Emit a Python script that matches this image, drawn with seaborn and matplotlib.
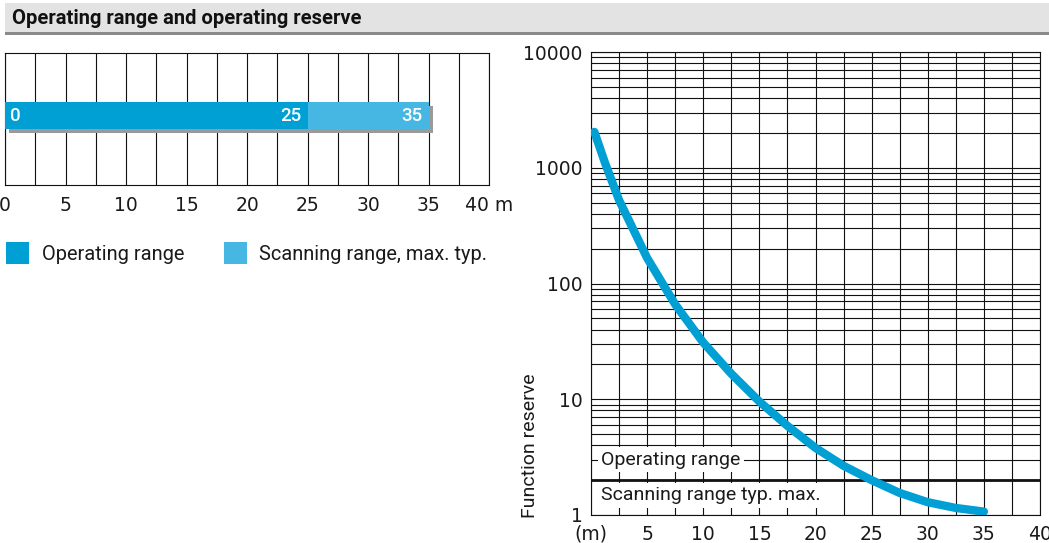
import matplotlib
matplotlib.use("Agg")
import matplotlib.pyplot as plt
import matplotlib.patheffects as pe
from matplotlib.patches import Rectangle
from matplotlib.ticker import FixedLocator, MultipleLocator, LogLocator, NullFormatter, FixedFormatter
import seaborn as sns

# Range bar (metres)
range_labels = ["Operating range", "Scanning range, max. typ."]
range_ends = [25, 35]
range_colors = ["#009FD4", "#46B7E2"]
range_ticks = [0, 5, 10, 15, 20, 25, 30, 35, 40]
range_tick_labels = ["0", "5", "10", "15", "20", "25", "30", "35", "40 m"]

# Function reserve versus distance
distance_m = [0.3, 1.25, 2.5, 5, 7.5, 10, 12.5, 15, 17.5, 20, 22.5, 25, 27.5, 30, 32.5, 35]
function_reserve = [2040, 1100, 525, 166, 66, 30.9, 16.6, 9.55, 5.89, 3.80, 2.66, 2.0, 1.55, 1.29, 1.15, 1.07]
reserve_ticks = [1, 10, 100, 1000, 10000]
distance_ticks = [0, 5, 10, 15, 20, 25, 30, 35, 40]
distance_tick_labels = ["(m)", "5", "10", "15", "20", "25", "30", "35", "40"]
operating_limit = 2

W, H = 1049, 543
sns.set_theme(style="white")
plt.rcParams["font.family"] = ["Roboto", "DejaVu Sans"]
plt.rcParams["text.color"] = "#1a1a1a"
TICK_FONT = ["DejaVu Sans"]
INK = "#1a1a1a"

fig = plt.figure(figsize=(W / 100, H / 100), dpi=100)


def fx(px):
    return px / W


def fy(py):
    return 1 - py / H


# Header band
fig.patches.append(Rectangle((fx(5), fy(32)), 1, 29 / H, transform=fig.transFigure,
                             facecolor="#E3E3E3", edgecolor="none", zorder=0))
fig.patches.append(Rectangle((fx(5), fy(35)), 1, 3 / H, transform=fig.transFigure,
                             facecolor="#8A8A8A", edgecolor="none", zorder=0))
fig.text(fx(12), fy(18), "Operating range and operating reserve",
         family=["Roboto", "DejaVu Sans"], fontweight="bold", fontsize=14.5,
         color="#111111", va="center", ha="left")

# ---- Range bar ----
axL = fig.add_axes([fx(5), fy(185.3), 484 / W, 132.6 / H])
sns.barplot(x=[range_ends[1]], y=[""], orient="h", color=range_colors[1],
            saturation=1, width=0.8, linewidth=0, ax=axL)
sns.barplot(x=[range_ends[0]], y=[""], orient="h", color=range_colors[0],
            saturation=1, width=0.8, linewidth=0, ax=axL)
bars = axL.patches
bars[0].set_path_effects([pe.SimplePatchShadow(offset=(2.9, -2.9), shadow_rgbFace="#9A9A9A", alpha=1),
                          pe.Normal()])
for b in bars:
    b.set_zorder(3)
axL.set_ylim(2.039, -1.845)
axL.set_xlim(0, 40)
axL.xaxis.set_major_locator(FixedLocator(range_ticks))
axL.xaxis.set_minor_locator(MultipleLocator(2.5))
axL.set_xticklabels(range_tick_labels, family=TICK_FONT)
axL.grid(True, which="both", axis="x", color="#111111", lw=0.8, zorder=1)
axL.set_axisbelow(True)
axL.tick_params(axis="x", which="both", length=0, labelsize=13.5, pad=8, labelcolor=INK)
axL.tick_params(axis="y", left=False, labelleft=False)
axL.set_xlabel("")
axL.set_ylabel("")
for s in axL.spines.values():
    s.set_color("#111111")
    s.set_linewidth(0.8)

# Value labels on the bar
axL.annotate("0", xy=(0, 0), xytext=(3.5, 0), textcoords="offset points", ha="left", va="center",
             color="white", fontsize=13.5, fontweight="medium", zorder=5)
for end in range_ends:
    axL.annotate(str(end), xy=(end, 0), xytext=(-4, 0), textcoords="offset points",
                 ha="right", va="center", color="white", fontsize=13.5, fontweight="medium", zorder=5)

# Legend
for (x0, xt), lab, col in zip([(6, 42), (224, 259)], range_labels, range_colors):
    fig.patches.append(Rectangle((fx(x0), fy(264)), 23 / W, 22 / H, transform=fig.transFigure,
                                 facecolor=col, edgecolor="none"))
    fig.text(fx(xt), fy(254), lab, ha="left", va="center", fontsize=14.4, color=INK)

# ---- Function reserve ----
axR = fig.add_axes([fx(591), fy(515), 449 / W, 463 / H])
axR.set_yscale("log")
sns.lineplot(x=distance_m, y=function_reserve, ax=axR, color="#009FD4", lw=6,
             solid_capstyle="round", zorder=4)
axR.set_xlim(0, 40)
axR.set_ylim(1, 10000)
axR.xaxis.set_major_locator(FixedLocator(distance_ticks))
axR.xaxis.set_major_formatter(FixedFormatter(distance_tick_labels))
axR.xaxis.set_minor_locator(MultipleLocator(2.5))
axR.yaxis.set_major_locator(FixedLocator(reserve_ticks))
axR.yaxis.set_major_formatter(FixedFormatter([str(t) for t in reserve_ticks]))
axR.yaxis.set_minor_locator(LogLocator(base=10, subs=range(2, 10)))
axR.yaxis.set_minor_formatter(NullFormatter())
axR.grid(True, which="both", color="#111111", lw=0.8, zorder=1)
axR.set_axisbelow(True)
axR.tick_params(which="both", length=0, labelsize=13.5, labelcolor=INK)
axR.tick_params(axis="x", pad=7)
axR.tick_params(axis="y", pad=6)
for lbl in axR.get_xticklabels() + axR.get_yticklabels():
    lbl.set_family(TICK_FONT)
for s in axR.spines.values():
    s.set_color("#111111")
    s.set_linewidth(0.8)
axR.axhline(operating_limit, color="#111111", lw=2, zorder=2)
box = dict(facecolor="white", edgecolor="none", pad=2.5)
axR.text(0.9, 3, "Operating range", ha="left", va="center", fontsize=14, bbox=box, zorder=3)
axR.text(0.9, 1.48, "Scanning range typ. max.", ha="left", va="center", fontsize=14, bbox=box, zorder=3)
axR.set_xlabel("")
axR.set_ylabel("")
fig.text(fx(530), fy(518), "Function reserve", rotation=90, ha="center", va="bottom",
         fontsize=14, color=INK)

fig.savefig("out.png", dpi=100)
